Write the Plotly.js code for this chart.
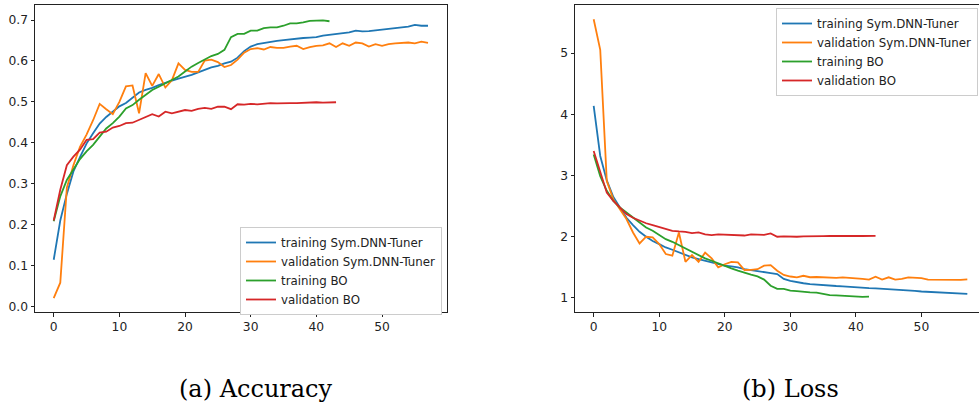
<!DOCTYPE html>
<html>
<head>
<meta charset="utf-8">
<script src="https://cdn.plot.ly/plotly-3.0.1.min.js"></script>
<style>
html,body{margin:0;padding:0;overflow:hidden;background:#fff;width:979px;height:407px;}
#chart{width:990px;height:407px;}
</style>
</head>
<body>
<div id="chart"></div>
<script>
// ---- Data ----
const seriesNames = ["training Sym.DNN-Tuner", "validation Sym.DNN-Tuner", "training BO", "validation BO"];
const seriesColors = ["#1f77b4", "#ff7f0e", "#2ca02c", "#d62728"];
const captions = ["(a) Accuracy", "(b) Loss"];
const xTickVals = [0, 10, 20, 30, 40, 50];
const accTickVals = [0.0, 0.1, 0.2, 0.3, 0.4, 0.5, 0.6, 0.7];
const lossTickVals = [1, 2, 3, 4, 5];

const accTrainSym = [0.114,0.21,0.275,0.33,0.365,0.398,0.423,0.447,0.463,0.476,0.489,0.497,0.511,0.523,0.529,0.534,0.541,0.547,0.552,0.557,0.561,0.566,0.572,0.578,0.584,0.588,0.594,0.598,0.608,0.624,0.635,0.641,0.644,0.647,0.649,0.651,0.653,0.655,0.656,0.657,0.658,0.662,0.664,0.667,0.668,0.670,0.674,0.672,0.673,0.675,0.677,0.679,0.681,0.683,0.684,0.688,0.686,0.686];
const accValSym = [0.02,0.058,0.29,0.345,0.39,0.42,0.455,0.495,0.482,0.470,0.50,0.538,0.540,0.472,0.570,0.539,0.568,0.535,0.553,0.594,0.578,0.573,0.573,0.601,0.603,0.597,0.585,0.590,0.603,0.620,0.629,0.631,0.628,0.634,0.632,0.632,0.635,0.637,0.629,0.634,0.637,0.638,0.643,0.634,0.643,0.637,0.645,0.643,0.635,0.641,0.637,0.641,0.643,0.644,0.645,0.643,0.647,0.644];
const accTrainBO = [0.208,0.269,0.309,0.334,0.36,0.379,0.395,0.415,0.435,0.448,0.464,0.484,0.492,0.505,0.517,0.529,0.537,0.545,0.553,0.562,0.574,0.586,0.595,0.603,0.612,0.617,0.627,0.658,0.666,0.666,0.674,0.674,0.680,0.682,0.682,0.686,0.692,0.692,0.694,0.698,0.699,0.699,0.697];
const accValBO = [0.21,0.285,0.345,0.366,0.383,0.407,0.409,0.425,0.427,0.437,0.441,0.448,0.449,0.456,0.464,0.470,0.464,0.476,0.472,0.476,0.480,0.478,0.483,0.485,0.483,0.488,0.488,0.482,0.494,0.493,0.495,0.494,0.496,0.497,0.496,0.497,0.497,0.497,0.498,0.498,0.499,0.498,0.499,0.499];

const lossTrainSym = [4.14,3.32,2.92,2.65,2.48,2.31,2.19,2.08,2.0,1.93,1.88,1.825,1.787,1.744,1.70,1.662,1.635,1.608,1.58,1.554,1.527,1.516,1.50,1.47,1.456,1.445,1.43,1.407,1.39,1.31,1.277,1.255,1.24,1.225,1.215,1.205,1.2,1.195,1.19,1.18,1.175,1.165,1.16,1.155,1.15,1.145,1.135,1.125,1.12,1.115,1.105,1.1,1.09,1.08,1.078,1.075,1.07,1.065];
const lossValSym = [5.555,5.055,2.91,2.61,2.45,2.29,2.07,1.89,2.0,1.99,1.88,1.717,1.69,2.07,1.59,1.70,1.59,1.74,1.646,1.50,1.55,1.59,1.58,1.456,1.46,1.47,1.527,1.537,1.445,1.375,1.35,1.335,1.362,1.338,1.342,1.336,1.33,1.327,1.337,1.332,1.322,1.31,1.30,1.347,1.30,1.337,1.30,1.31,1.337,1.33,1.325,1.30,1.298,1.295,1.293,1.293,1.295,1.304];
const lossTrainBO = [3.345,2.99,2.75,2.585,2.477,2.395,2.31,2.22,2.15,2.097,2.026,1.96,1.917,1.863,1.81,1.744,1.70,1.646,1.608,1.565,1.516,1.483,1.445,1.407,1.38,1.353,1.30,1.20,1.147,1.147,1.12,1.11,1.095,1.09,1.085,1.065,1.045,1.043,1.038,1.03,1.016,1.018,1.02];
const lossValBO = [3.40,3.05,2.72,2.585,2.477,2.37,2.31,2.26,2.22,2.19,2.16,2.135,2.097,2.086,2.08,2.06,2.07,2.037,2.026,2.037,2.03,2.026,2.015,2.02,2.04,2.037,2.03,2.053,2.0,2.005,2.0,2.0,2.005,2.01,2.015,2.01,2.012,2.015,2.01,2.012,2.015,2.012,2.015,2.015];

// ---- Build traces ----
const epochs = arr => arr.map((_, i) => i);
const accSeries = [accTrainSym, accValSym, accTrainBO, accValBO];
const lossSeries = [lossTrainSym, lossValSym, lossTrainBO, lossValBO];
const traces = [];
accSeries.forEach((ys, k) => traces.push({
  x: epochs(ys), y: ys, type: 'scatter', mode: 'lines', name: seriesNames[k],
  line: {color: seriesColors[k], width: 1.8}, xaxis: 'x', yaxis: 'y', legend: 'legend'
}));
lossSeries.forEach((ys, k) => traces.push({
  x: epochs(ys), y: ys, type: 'scatter', mode: 'lines', name: seriesNames[k],
  line: {color: seriesColors[k], width: 1.8}, xaxis: 'x2', yaxis: 'y2', legend: 'legend2'
}));

const W = 990, H = 407;
const tickFont = {family: 'DejaVu Sans, sans-serif', size: 12.3, color: '#222'};
const axisBase = {
  showline: true, mirror: true, linecolor: '#222', linewidth: 1,
  ticks: 'outside', ticklen: 3.5, tickwidth: 1, tickcolor: '#222',
  showgrid: false, zeroline: false, tickfont: tickFont, fixedrange: true
};
const yDom = [1 - 312 / H, 1 - 5 / H];
const legendBase = {
  bgcolor: '#ffffff', bordercolor: '#cccccc', borderwidth: 1,
  font: {family: 'DejaVu Sans, sans-serif', size: 11.8, color: '#222'}, tracegroupgap: 0
};

const layout = {
  width: W, height: H,
  margin: {l: 0, r: 0, t: 0, b: 0},
  paper_bgcolor: '#ffffff', plot_bgcolor: '#ffffff',
  showlegend: true,
  xaxis: Object.assign({}, axisBase, {domain: [35 / W, 446.7 / W], range: [-2.85, 59.85], tickvals: xTickVals, anchor: 'y'}),
  yaxis: Object.assign({}, axisBase, {domain: yDom, range: [-0.0137, 0.7367], tickvals: accTickVals, tickformat: '.1f', anchor: 'x'}),
  xaxis2: Object.assign({}, axisBase, {domain: [575 / W, 986 / W], range: [-2.85, 59.85], tickvals: xTickVals, anchor: 'y2'}),
  yaxis2: Object.assign({}, axisBase, {domain: yDom, range: [0.77, 5.787], tickvals: lossTickVals, anchor: 'x2'}),
  legend: Object.assign({}, legendBase, {x: 442 / W, y: 1 - 227 / H, xanchor: 'right', yanchor: 'top'}),
  legend2: Object.assign({}, legendBase, {x: 978 / W, y: 1 - 8 / H, xanchor: 'right', yanchor: 'top'}),
  annotations: [
    {text: captions[0], x: 256 / W, y: 1 - 389 / H, xref: 'paper', yref: 'paper', showarrow: false,
     xanchor: 'center', yanchor: 'middle', font: {family: 'DejaVu Serif, serif', size: 24, color: '#000'}},
    {text: captions[1], x: 790 / W, y: 1 - 389 / H, xref: 'paper', yref: 'paper', showarrow: false,
     xanchor: 'center', yanchor: 'middle', font: {family: 'DejaVu Serif, serif', size: 24, color: '#000'}}
  ]
};

Plotly.newPlot('chart', traces, layout, {displayModeBar: false, staticPlot: true});
</script>
</body>
</html>
